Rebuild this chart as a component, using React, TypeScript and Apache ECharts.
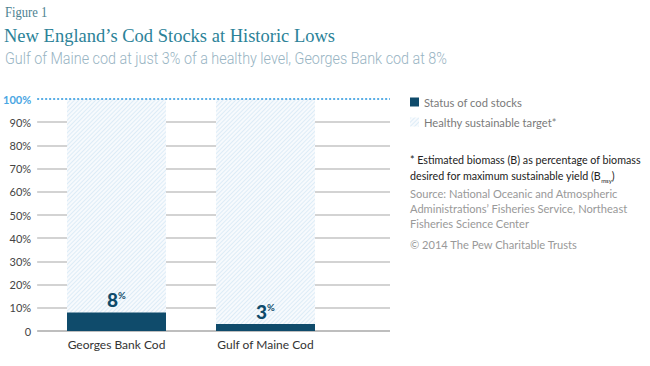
import React, { useEffect, useRef } from "react";
import * as echarts from "echarts";

const categories = ["Georges Bank Cod", "Gulf of Maine Cod"];
const statusValues = [8, 3];
const targetValues = [100, 100];
const yTicks = [0, 10, 20, 30, 40, 50, 60, 70, 80, 90, 100];
const seriesNames = ["Status of cod stocks", "Healthy sustainable target*"];

const NAVY = "#0f4b6b";
const FONT = "Lato, 'Open Sans', sans-serif";

export default function App() {
  const ref = useRef<HTMLDivElement>(null);
  useEffect(() => {
    if (!ref.current) return;
    const chart = echarts.init(ref.current, null, { renderer: "svg" });
    const splitColors = yTicks.map((t) => (t === 100 ? "transparent" : t === 0 ? "#a8a8a8" : "#c4c4c4"));
    chart.setOption({
      animation: false,
      textStyle: { fontFamily: FONT },
      grid: [
        { left: 35, right: 260, top: 99, bottom: 35 },
        { left: 42, right: 310, top: 99, bottom: 35 },
      ],
      xAxis: [
        { type: "value", gridIndex: 0, show: false, min: 0, max: 1 },
        {
          type: "category",
          gridIndex: 1,
          data: categories,
          axisLine: { show: false },
          axisTick: { show: false },
          axisLabel: { color: "#333", fontSize: 12, margin: 7, fontFamily: FONT },
        },
      ],
      yAxis: [
        {
          type: "value",
          gridIndex: 0,
          min: 0,
          max: 100,
          interval: 10,
          axisLine: { show: false },
          axisTick: { show: false },
          axisLabel: {
            margin: 6,
            fontSize: 11,
            fontFamily: FONT,
            color: "#444",
            formatter: (v: number) => (v === 0 ? "0" : v === 100 ? "{hi|" + v + "%}" : v + "%"),
            rich: { hi: { color: "#4aa6e3", fontWeight: "bold", fontSize: 11, fontFamily: FONT } },
          },
          splitLine: { show: true, lineStyle: { color: splitColors, width: 1.5 } },
        },
        { type: "value", gridIndex: 1, min: 0, max: 100, show: false, splitLine: { show: false } },
      ],
      legend: {
        left: 410,
        top: 96,
        orient: "vertical",
        padding: 0,
        itemWidth: 9,
        itemHeight: 9,
        itemGap: 8,
        icon: "rect",
        data: seriesNames,
        textStyle: { color: "#7a7a7a", fontSize: 11.2, fontFamily: FONT, lineHeight: 12 },
      },
      series: [
        {
          type: "line",
          xAxisIndex: 0,
          yAxisIndex: 0,
          data: [],
          silent: true,
          markLine: {
            silent: true,
            symbol: "none",
            label: { show: false },
            lineStyle: { color: "#5aaee6", type: [2, 2], width: 2 },
            data: [{ yAxis: 100 }],
          },
        },
        {
          name: seriesNames[1],
          type: "bar",
          xAxisIndex: 1,
          yAxisIndex: 1,
          data: targetValues,
          barWidth: 99,
          itemStyle: {
            color: "#f7fafd",
            decal: {
              symbol: "rect",
              symbolSize: 1,
              color: "rgba(180,212,236,0.38)",
              dashArrayX: [1, 0],
              dashArrayY: [1, 2],
              rotation: -Math.PI / 4,
            },
          },
        },
        {
          name: seriesNames[0],
          type: "bar",
          xAxisIndex: 1,
          yAxisIndex: 1,
          data: statusValues,
          barWidth: 99,
          barGap: "-100%",
          itemStyle: { color: NAVY },
          label: {
            show: true,
            position: "top",
            distance: 3,
            formatter: (p: any) => "{n|" + p.value + "}{p|%}",
            rich: {
              n: { fontSize: 19, fontWeight: 900, color: NAVY, fontFamily: FONT },
              p: { fontSize: 9.5, fontWeight: "bold", color: NAVY, fontFamily: FONT, padding: [0, 0, 8, 0] },
            },
          },
        },
      ],
      graphic: [
        {
          type: "text",
          left: 5,
          top: 5,
          scaleX: 0.9,
          style: { text: "Figure 1", fontSize: 14, fontFamily: "'Liberation Serif', serif", fill: "#4b8190" },
        },
        {
          type: "text",
          left: 4,
          top: 25,
          scaleX: 0.95,
          style: {
            text: "New England\u2019s Cod Stocks at Historic Lows",
            fontSize: 19.5,
            fontFamily: "'Liberation Serif', serif",
            fill: "#2b8298",
          },
        },
        {
          type: "text",
          left: 5,
          top: 50,
          scaleX: 0.87,
          style: {
            text: "Gulf of Maine cod at just 3% of a healthy level, Georges Bank cod at 8%",
            fontSize: 16.5,
            fontWeight: 300,
            fontFamily: "Roboto, sans-serif",
            fill: "#98b4c3",
          },
        },
        {
          type: "text",
          left: 410,
          top: 151,
          style: {
            text: "* Estimated biomass (B) as percentage of biomass\ndesired for maximum sustainable yield (B{s|msy})",
            fontSize: 10.7,
            lineHeight: 16,
            fontFamily: FONT,
            fill: "#222",
            rich: {
              s: { fontSize: 6, fill: "#222", verticalAlign: "bottom", lineHeight: 8, fontFamily: FONT },
            },
          },
        },
        {
          type: "text",
          left: 410,
          top: 186,
          style: {
            text: "Source: National Oceanic and Atmospheric\nAdministrations\u2019 Fisheries Service, Northeast\nFisheries Science Center",
            fontSize: 11.1,
            lineHeight: 15,
            fontFamily: FONT,
            fill: "#999",
          },
        },
        {
          type: "text",
          left: 410,
          top: 237,
          style: {
            text: "\u00a9 2014 The Pew Charitable Trusts",
            fontSize: 11.1,
            lineHeight: 15,
            fontFamily: FONT,
            fill: "#999",
          },
        },
      ],
    });
    return () => chart.dispose();
  }, []);
  return <div ref={ref} style={{ position: "absolute", left: 0, top: 0, width: 650, height: 366 }} />;
}
